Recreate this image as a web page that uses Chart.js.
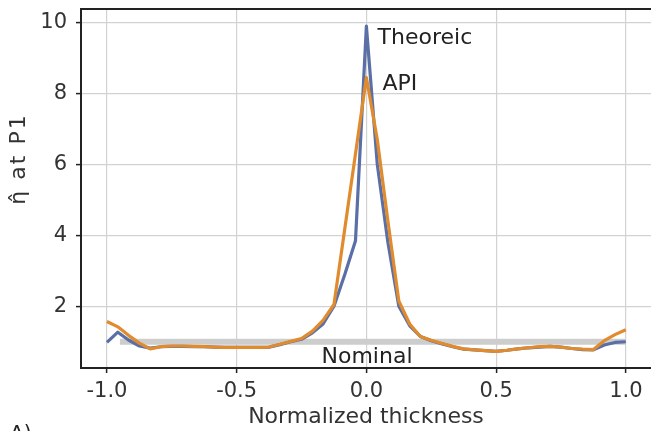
<!DOCTYPE html>
<html>
<head>
<meta charset="utf-8">
<script src="https://cdn.jsdelivr.net/npm/chart.js@4.4.1/dist/chart.umd.min.js"></script>
<style>
  html, body { margin: 0; padding: 0; overflow: hidden; background: #fff; }
</style>
</head>
<body>
<canvas id="chart" width="651" height="431"></canvas>
<script>
// normalized thickness positions (x)
const thickness = [
  -1.000, -0.958, -0.917, -0.875, -0.833, -0.792, -0.750, -0.708, -0.667, -0.625,
  -0.583, -0.542, -0.500, -0.458, -0.417, -0.375, -0.333, -0.292, -0.250, -0.208,
  -0.167, -0.125, -0.083, -0.042, 0.000, 0.042, 0.083, 0.125, 0.167, 0.208,
  0.250, 0.292, 0.333, 0.375, 0.417, 0.458, 0.500, 0.542, 0.583, 0.625,
  0.667, 0.708, 0.750, 0.792, 0.833, 0.875, 0.917, 0.958, 1.000
];
const theoretic = [
  0.98, 1.27, 1.05, 0.88, 0.82, 0.86, 0.87, 0.87, 0.86, 0.86,
  0.85, 0.84, 0.84, 0.84, 0.84, 0.85, 0.92, 1.00, 1.07, 1.25,
  1.50, 2.00, 2.90, 3.85, 9.90, 6.00, 3.80, 2.00, 1.45, 1.15,
  1.03, 0.94, 0.86, 0.79, 0.77, 0.75, 0.73, 0.76, 0.80, 0.83,
  0.85, 0.87, 0.85, 0.81, 0.78, 0.77, 0.91, 0.98, 1.00
];
const api = [
  1.57, 1.42, 1.18, 0.96, 0.80, 0.86, 0.88, 0.88, 0.87, 0.86,
  0.85, 0.84, 0.84, 0.84, 0.84, 0.85, 0.93, 1.01, 1.09, 1.30,
  1.60, 2.05, 4.20, 6.30, 8.45, 6.70, 4.40, 2.15, 1.50, 1.15,
  1.04, 0.95, 0.87, 0.80, 0.77, 0.75, 0.73, 0.76, 0.80, 0.83,
  0.86, 0.87, 0.85, 0.81, 0.79, 0.78, 1.03, 1.20, 1.34
];
const nominalX = [-0.95, 1.0];
const nominalY = [1.0, 1.0];
const xTicks = [-1.0, -0.5, 0.0, 0.5, 1.0];
const yTicks = [2, 4, 6, 8, 10];

const pts = (xs, ys) => xs.map((x, i) => ({ x: x, y: ys[i] }));

const labelsPlugin = {
  id: "labels",
  afterDatasetsDraw(chart) {
    const { ctx, chartArea, scales } = chart;
    const x = scales.x, y = scales.y;
    ctx.save();
    // left, top and bottom spines (right one is off the picture)
    ctx.strokeStyle = "#222";
    ctx.lineWidth = 2;
    ctx.beginPath();
    ctx.moveTo(chart.width, chartArea.top);
    ctx.lineTo(chartArea.left, chartArea.top);
    ctx.lineTo(chartArea.left, chartArea.bottom);
    ctx.lineTo(chart.width, chartArea.bottom);
    ctx.stroke();
    ctx.fillStyle = "#222";
    ctx.font = "22px 'DejaVu Sans'";
    ctx.textBaseline = "middle";
    ctx.textAlign = "left";
    ctx.fillText("Theoreic", x.getPixelForValue(0.043), y.getPixelForValue(9.55));
    ctx.fillText("API", x.getPixelForValue(0.062), y.getPixelForValue(8.26));
    ctx.fillText("Nominal", x.getPixelForValue(-0.173), y.getPixelForValue(0.57));
    // y axis title
    ctx.fillStyle = "#333";
    ctx.translate(19, 159);
    ctx.rotate(-Math.PI / 2);
    ctx.textAlign = "center";
    ctx.letterSpacing = "2px";
    ctx.fillText("\u03B7\u0302 at P1", 0, 0);
    ctx.restore();
    ctx.save();
    ctx.fillStyle = "#222";
    ctx.font = "20px 'DejaVu Sans'";
    ctx.textBaseline = "top";
    ctx.fillText("A)", 10, 424);
    ctx.restore();
  }
};

new Chart(document.getElementById("chart").getContext("2d"), {
  type: "line",
  data: {
    datasets: [
      {
        label: "Nominal",
        data: pts(nominalX, nominalY),
        borderColor: "#cdcdcd",
        borderWidth: 6,
        order: 3
      },
      {
        label: "Theoretic",
        data: pts(thickness, theoretic),
        borderColor: "#5a6fa6",
        borderWidth: 3.2,
        order: 2
      },
      {
        label: "API",
        data: pts(thickness, api),
        borderColor: "#e08c2e",
        borderWidth: 3.2,
        order: 1
      }
    ]
  },
  options: {
    responsive: false,
    animation: false,
    layout: { padding: { top: 9, right: 0, left: 0, bottom: 0 } },
    elements: {
      point: { radius: 0 },
      line: { tension: 0, fill: false, borderJoinStyle: "round" }
    },
    plugins: { legend: { display: false }, tooltip: { enabled: false } },
    scales: {
      x: {
        type: "linear",
        min: -1.1,
        max: 1.097,
        afterFit: (s) => { s.height = 63; s.paddingLeft = 0; s.paddingRight = 0; },
        afterBuildTicks: (s) => { s.ticks = xTicks.map((v) => ({ value: v })); },
        ticks: {
          color: "#333",
          font: { family: "DejaVu Sans", size: 21 },
          padding: 6,
          callback: (v) => v.toFixed(1)
        },
        grid: { color: "#d2d2d2", lineWidth: 1.2, tickColor: "#222", tickLength: 5, tickWidth: 1.5 },
        border: { display: false },
        title: {
          display: true,
          text: "Normalized thickness",
          color: "#333",
          font: { family: "DejaVu Sans", size: 22 },
          padding: { top: 0, bottom: 1 }
        }
      },
      y: {
        type: "linear",
        min: 0.26,
        max: 10.38,
        afterFit: (s) => { s.width = 81; s.paddingTop = 0; s.paddingBottom = 0; },
        afterBuildTicks: (s) => { s.ticks = yTicks.map((v) => ({ value: v })); },
        ticks: {
          color: "#333",
          font: { family: "DejaVu Sans", size: 21 },
          padding: 9
        },
        grid: { color: "#d2d2d2", lineWidth: 1.2, tickColor: "#222", tickLength: 5, tickWidth: 1.5 },
        border: { display: false },
        title: { display: false }
      }
    }
  },
  plugins: [labelsPlugin]
});
</script>
</body>
</html>
